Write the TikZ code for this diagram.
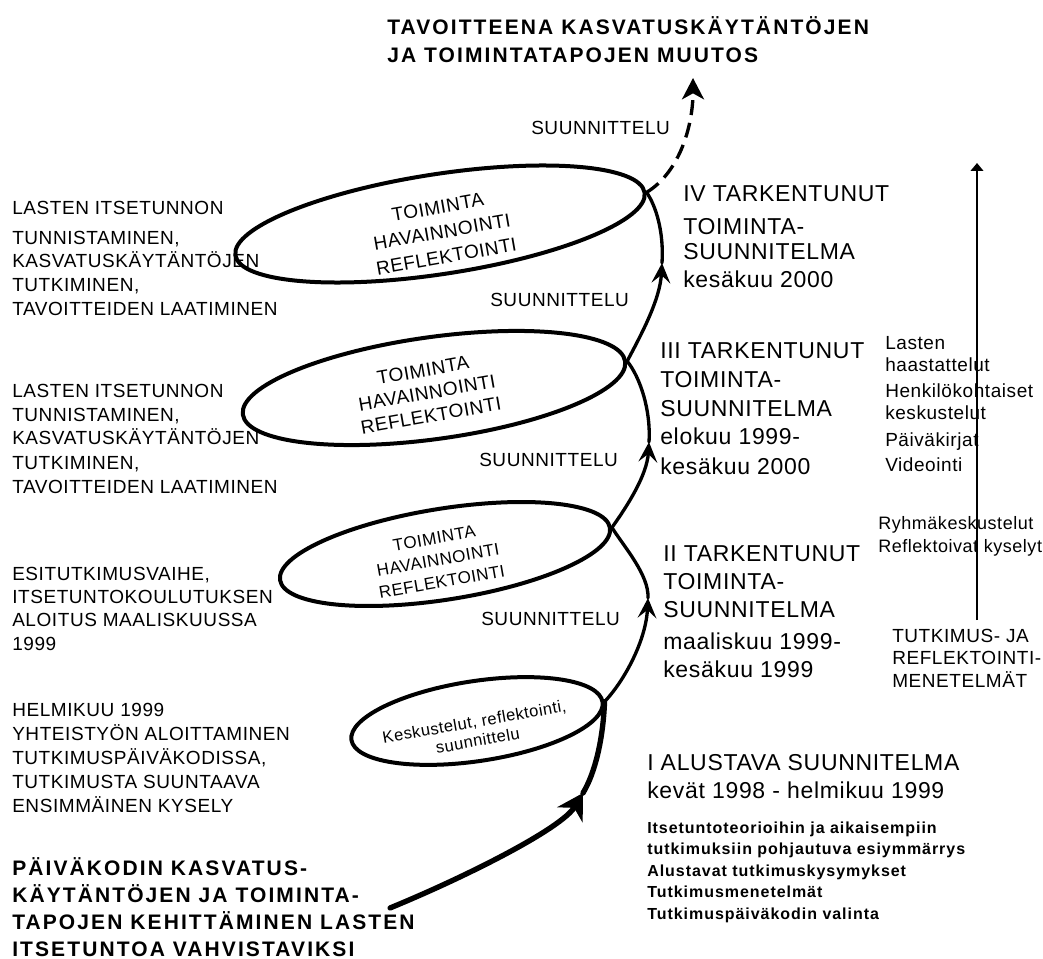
\documentclass[tikz,border=0pt]{standalone}
\usepackage{fontspec}
\setmainfont{Liberation Sans}
% Arial-like faces with a little tracking, as in the printed chart
\newfontfamily\fReg{Liberation Sans}[LetterSpace=3]
\newfontfamily\fLoose{Liberation Sans}[LetterSpace=6]
\newfontfamily\fWide{Liberation Sans}[LetterSpace=10]
\usetikzlibrary{arrows.meta,shapes.geometric}

% text blocks are placed by the baseline of their last line
\tikzset{
  loopell/.style={draw, ellipse, line width=3pt, inner sep=0pt},
  looptxt/.style={align=center, inner sep=0pt, rotate=10},
  spiral/.style={line width=2.5pt, line cap=round},
  spiralthick/.style={line width=4pt, line cap=round},
  midtip/.style={-{Stealth[length=15pt,width=14pt,inset=6pt]}},
  blocktxt/.style={anchor=base west, align=left, inner sep=0pt},
  lefttxt/.style={blocktxt, font=\fReg\fontsize{14.25pt}{18pt}\selectfont},
  stagetxt/.style={blocktxt, font=\fReg\fontsize{17.25pt}{21pt}\selectfont},
  plantxt/.style={blocktxt, font=\fReg\fontsize{14.25pt}{14.25pt}\selectfont},
  boldtxt/.style={blocktxt, font=\fWide\bfseries\fontsize{15.75pt}{20.25pt}\selectfont},
  smallbold/.style={blocktxt, font=\fLoose\bfseries\fontsize{12pt}{16.125pt}\selectfont},
}

\begin{document}
\begin{tikzpicture}[x=0.75pt, y=-0.75pt]
\useasboundingbox (0,0) rectangle (1043,959);

% ---- the four loops of the spiral ----
\node[loopell, minimum width=190.5pt, minimum height=60pt, rotate=8.6] (e1) at (477,721) {};
\node[loopell, minimum width=250.5pt, minimum height=68.25pt, rotate=9] (e2) at (445,554) {};
\node[loopell, minimum width=289.5pt, minimum height=76.5pt, rotate=7.9] (e3) at (434,388) {};
\node[loopell, minimum width=310.5pt, minimum height=75pt, rotate=8.7] (e4) at (440,224) {};

\node[looptxt, font=\fReg\fontsize{12.375pt}{14.25pt}\selectfont] (t1) at (476,731)
  {Keskustelut, reflektointi,\\suunnittelu};
\node[looptxt, font=\fReg\fontsize{12.75pt}{16.5pt}\selectfont] (t2) at (438,560)
  {TOIMINTA\\HAVAINNOINTI\\REFLEKTOINTI};
\node[looptxt, font=\fReg\fontsize{14.25pt}{17.25pt}\selectfont] (t3) at (427,393)
  {TOIMINTA\\HAVAINNOINTI\\REFLEKTOINTI};
\node[looptxt, font=\fReg\fontsize{14.25pt}{18.75pt}\selectfont] (t4) at (442,232)
  {TOIMINTA\\HAVAINNOINTI\\REFLEKTOINTI};

% ---- the rising path between the loops ----
\coordinate (start) at (390,908);
\coordinate (tA) at (583,793);
\coordinate (tB) at (648,598);
\coordinate (tC) at (649,442);
\coordinate (tD) at (662,263);
\coordinate (goal) at (693,78);

\draw[spiralthick, -{Stealth[length=19pt,width=22pt,inset=6pt]}]
  (start) .. controls (470,875) and (562,828) .. (tA);
\draw[spiralthick] (tA) .. controls (595,773) and (603,740) .. (e1.east);

\draw[spiral, midtip] (e1.east) .. controls (625,680) and (646,640) .. (tB);
\draw[spiral] (tB) .. controls (649,575) and (625,548) .. (e2.east);

\draw[spiral, midtip] (e2.east) .. controls (628,505) and (647,475) .. (tC);
\draw[spiral] (tC) .. controls (651,410) and (640,377) .. (e3.east);

\draw[spiral, midtip] (e3.east) .. controls (641,335) and (660,300) .. (tD);
\draw[spiral] (tD) .. controls (664,232) and (656,206) .. (e4.east);

\draw[line width=2.5pt, dash pattern=on 11.25pt off 6pt,
      -{Stealth[length=16pt,width=16.5pt,inset=4.5pt]}]
  (e4.east) .. controls (680,172) and (693,125) .. (goal);

% ---- methods axis on the right ----
\coordinate (mBot) at (977,620);
\coordinate (mTop) at (977,163);
\draw[line width=1.5pt, -{Triangle[length=6pt,width=9.5pt]}] (mBot) -- (mTop);

% ---- headings ----
\node[boldtxt, font=\fWide\bfseries\fontsize{15.75pt}{21pt}\selectfont] (goaltxt) at (387,63)
  {TAVOITTEENA KASVATUSKÄYTÄNTÖJEN\\JA TOIMINTATAPOJEN MUUTOS};
\node[boldtxt] (basetxt) at (12,956)
  {PÄIVÄKODIN KASVATUS-\\KÄYTÄNTÖJEN JA TOIMINTA-\\TAPOJEN KEHITTÄMINEN LASTEN\\ITSETUNTOA VAHVISTAVIKSI};

% ---- phase descriptions on the left ----
\node[lefttxt] (l4) at (12,316)
  {LASTEN ITSETUNNON\\[4.5pt]TUNNISTAMINEN,\\KASVATUSKÄYTÄNTÖJEN\\TUTKIMINEN,\\TAVOITTEIDEN LAATIMINEN};
\node[lefttxt] (l3) at (12,493)
  {LASTEN ITSETUNNON\\TUNNISTAMINEN,\\KASVATUSKÄYTÄNTÖJEN\\TUTKIMINEN,\\TAVOITTEIDEN LAATIMINEN};
\node[lefttxt, font=\fReg\fontsize{14.25pt}{17.5pt}\selectfont] (l2) at (12,650)
  {ESITUTKIMUSVAIHE,\\ITSETUNTOKOULUTUKSEN\\ALOITUS MAALISKUUSSA\\1999};
\node[lefttxt] (l1) at (12,812)
  {HELMIKUU 1999\\YHTEISTYÖN ALOITTAMINEN\\TUTKIMUSPÄIVÄKODISSA,\\TUTKIMUSTA SUUNTAAVA\\ENSIMMÄINEN KYSELY};

% ---- planning labels ----
\node[plantxt] (p4) at (531,135) {SUUNNITTELU};
\node[plantxt] (p3) at (490,307) {SUUNNITTELU};
\node[plantxt] (p2) at (479,466) {SUUNNITTELU};
\node[plantxt] (p1) at (481,625) {SUUNNITTELU};

% ---- plan stages on the right ----
\node[stagetxt] (s4) at (683,288)
  {IV TARKENTUNUT\\[3.75pt]TOIMINTA-\\[-2.25pt]SUUNNITELMA\\kesäkuu 2000};
\node[stagetxt, font=\fReg\fontsize{17.25pt}{21.75pt}\selectfont] (s3) at (660,474)
  {III TARKENTUNUT\\TOIMINTA-\\SUUNNITELMA\\elokuu 1999-\\kesäkuu 2000};
\node[stagetxt] (s2) at (663,677)
  {II TARKENTUNUT\\TOIMINTA-\\SUUNNITELMA\\[3pt]maaliskuu 1999-\\kesäkuu 1999};
\node[stagetxt] (s1) at (647,798)
  {I ALUSTAVA SUUNNITELMA\\kevät 1998 - helmikuu 1999};
\node[smallbold] (s1list) at (647,919)
  {Itsetuntoteorioihin ja aikaisempiin\\tutkimuksiin pohjautuva esiymmärrys\\Alustavat tutkimuskysymykset\\Tutkimusmenetelmät\\Tutkimuspäiväkodin valinta};

% ---- research and reflection methods ----
\node[blocktxt, font=\fReg\fontsize{14.25pt}{16.125pt}\selectfont] (m1) at (885,471)
  {Lasten\\haastattelut\\[3.75pt]Henkilökohtaiset\\keskustelut\\[4.5pt]Päiväkirjat\\[2.25pt]Videointi};
\node[blocktxt, font=\fReg\fontsize{13.5pt}{17.25pt}\selectfont] (m2) at (878,552)
  {Ryhmäkeskustelut\\Reflektoivat kyselyt};
\node[blocktxt, font=\fReg\fontsize{14.25pt}{16.875pt}\selectfont] (m3) at (892,687)
  {TUTKIMUS- JA\\REFLEKTOINTI-\\MENETELMÄT};
\end{tikzpicture}
\end{document}
